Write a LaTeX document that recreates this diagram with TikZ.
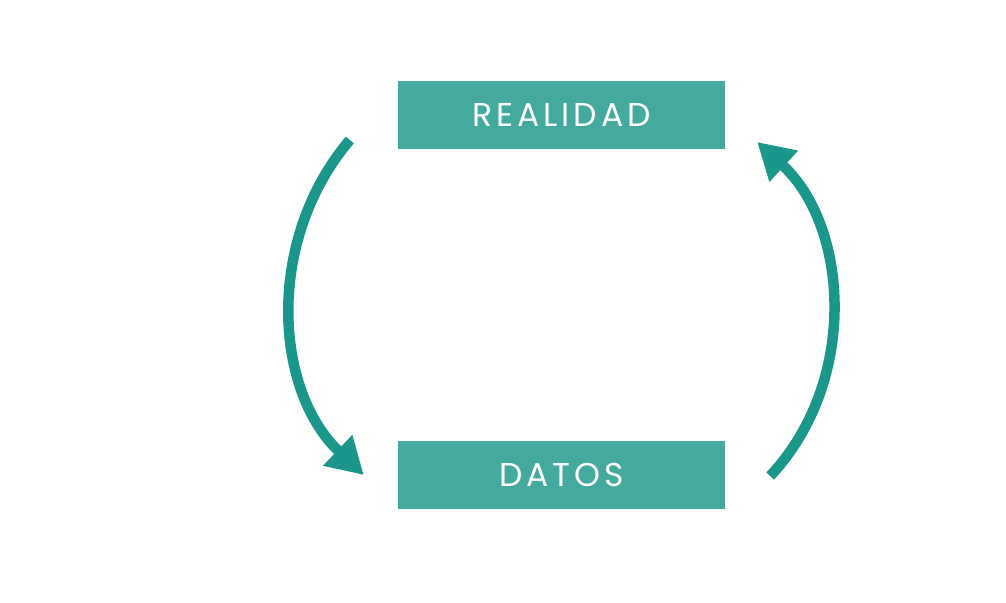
\documentclass[tikz,border=0pt]{standalone}
\usepackage{fontspec}
\setmainfont{Poppins}
\usetikzlibrary{arrows.meta}

\definecolor{boxteal}{HTML}{44AA9F}
\definecolor{arcteal}{HTML}{1A968A}

\tikzset{
    stagebox/.style={fill=boxteal, text=white, minimum width=327pt, minimum height=68pt,
        inner sep=0pt, font=\fontsize{33}{38}\selectfont\addfontfeatures{LetterSpace=12}},
    cyclearc/.style={draw=arcteal, line width=10.5pt,
        -{Triangle[length=36pt, width=40pt]}}
}

\begin{document}
\begin{tikzpicture}[x=1pt, y=-1pt]
    \useasboundingbox (0,0) rectangle (1006,602);

    % Kaesten
    \node[stagebox] (realidad) at (561.5,115) {REALIDAD};
    \node[stagebox] (datos) at (561.5,475) {DATOS};

    % Enden der Boegen
    \coordinate (izqA) at ([shift={(-48,25)}]realidad.west);
    \coordinate (izqB) at ([shift={(-34,0)}]datos.west);
    \coordinate (derA) at ([shift={(45,1)}]datos.east);
    \coordinate (derB) at ([shift={(32,27)}]realidad.east);

    % Boegen
    \draw[cyclearc] (izqA) .. controls (265,240) and (274,390) .. (izqB);
    \draw[cyclearc] (derA) .. controls (860,380) and (848,225) .. (derB);
\end{tikzpicture}
\end{document}
